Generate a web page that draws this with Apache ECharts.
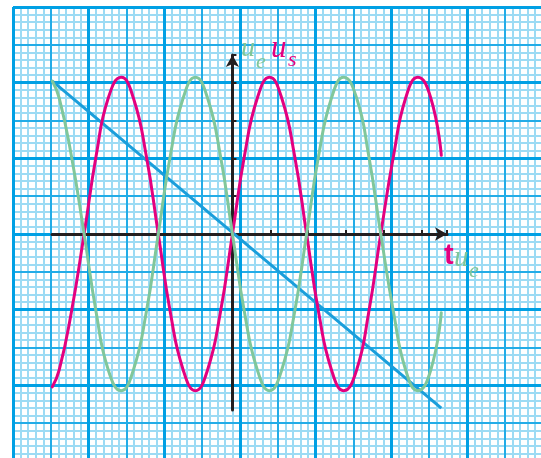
<!DOCTYPE html>
<html>
<head>
<meta charset="utf-8">
<script src="https://cdn.jsdelivr.net/npm/echarts@6/dist/echarts.min.js"></script>
<style>
  html, body { margin: 0; padding: 0; background: #fff; }
  #chart { width: 541px; height: 458px; }
</style>
</head>
<body>
<div id="chart"></div>
<script>
// values are in small squares of the graph paper, origin where the axes cross
var tPoints = [-23.8, -22.9, -21.3, -19.6, -18.0, -16.4, -14.7, -13.1, -11.4, -9.8, -8.2,
    -6.5, -4.9, -3.3, -1.6, 0, 1.6, 3.3, 4.9, 6.5, 8.2, 9.8, 11.4, 13.1, 14.7, 16.4,
    18.0, 19.6, 21.3, 22.9, 24.5, 26.2, 27.6];
// u_s (magenta)
var usValues = [-20.2, -18.0, -10.4, 0, 10.4, 18.0, 20.7, 18.0, 10.4, 0, -10.4, -18.0,
    -20.7, -18.0, -10.4, 0, 10.4, 18.0, 20.7, 18.0, 10.4, 0, -10.4, -18.0, -20.7,
    -18.0, -10.4, 0, 10.4, 18.0, 20.7, 18.0, 10.4];
// u_e (green)
var ueValues = [20.2, 18.0, 10.4, 0, -10.4, -18.0, -20.7, -18.0, -10.4, 0, 10.4, 18.0,
    20.7, 18.0, 10.4, 0, -10.4, -18.0, -20.7, -18.0, -10.4, 0, 10.4, 18.0, 20.7,
    18.0, 10.4, 0, -10.4, -18.0, -20.7, -18.0, -10.4];
// straight ramp (blue)
var rampT = [-23.8, 27.6];
var rampValues = [20.2, -23.0];
// axis ticks every 5 small squares on positive side
var tickStep = 5;

var SQ = 7.567;          // px per small square
var PAPER_L = 13, PAPER_T = 7;
var W_SQ = 70, H_SQ = 60;   // paper runs a little past the window edge
var ORIGIN_X = PAPER_L + 29 * SQ;
var ORIGIN_Y = PAPER_T + 30 * SQ;

var MAJOR = '#00a0e4', MEDIUM = '#22ace7', MINOR = '#9cdbf4';
var MAGENTA = '#e4007f', GREEN = '#80c79b', TEXTGREEN = '#7fc699', BLUE = '#1a9edb', BLACK = '#231f20';

function pairs(xs, ys) {
    var out = [];
    for (var i = 0; i < xs.length; i++) out.push([xs[i], ys[i]]);
    return out;
}

// graph paper: one hidden axis per line weight, only its split lines drawn
function paperAxis(interval, color, width, z, max, inverse) {
    return {
        gridIndex: 0, type: 'value', min: 0, max: max, interval: interval, z: z, inverse: inverse,
        axisLine: { show: false }, axisTick: { show: false }, axisLabel: { show: false },
        splitLine: { show: true, lineStyle: { color: color, width: width, type: 'solid' } }
    };
}

function label(text, x, y, color, font) {
    return { type: 'text', x: x, y: y, z: 10,
        style: { text: text, fill: color, font: font, textVerticalAlign: 'middle' } };
}

var hidden = { show: false };
var myChart = echarts.init(document.getElementById('chart'), null, { renderer: 'canvas' });

var posW = 447 - ORIGIN_X, posH = ORIGIN_Y - 55;
var negW = ORIGIN_X - 52, negH = 410 - ORIGIN_Y;

var option = {
    animation: false,
    backgroundColor: '#fff',
    grid: [
        { left: PAPER_L, top: PAPER_T, width: W_SQ * SQ, height: H_SQ * SQ, outerBoundsMode: 'none' },
        { left: ORIGIN_X, top: 55, width: posW, height: posH, outerBoundsMode: 'none' },
        { left: 52, top: ORIGIN_Y, width: negW, height: negH, outerBoundsMode: 'none' }
    ],
    xAxis: [
        paperAxis(1, MINOR, 2, 0, W_SQ, false),
        paperAxis(5, MEDIUM, 2, 1, W_SQ, false),
        paperAxis(10, MAJOR, 3, 2, W_SQ, false),
        { gridIndex: 0, type: 'value', min: -29, max: W_SQ - 29, show: false },
        {
            gridIndex: 1, type: 'value', min: 0, max: posW / SQ, interval: tickStep, position: 'bottom', z: 3,
            axisLine: { show: true, onZero: false, symbol: ['none', 'arrow'], symbolSize: [10, 12],
                lineStyle: { color: BLACK, width: 3 } },
            axisTick: { show: true, inside: true, length: 4, lineStyle: { color: BLACK, width: 2 } },
            axisLabel: hidden, splitLine: hidden
        },
        {
            gridIndex: 2, type: 'value', min: -negW / SQ, max: 0, position: 'top', z: 3,
            axisLine: { show: true, onZero: false, lineStyle: { color: BLACK, width: 3 } },
            axisTick: hidden, axisLabel: hidden, splitLine: hidden
        }
    ],
    yAxis: [
        paperAxis(1, MINOR, 2, 0, H_SQ, true),
        paperAxis(5, MEDIUM, 2, 1, H_SQ, true),
        paperAxis(10, MAJOR, 3, 2, H_SQ, true),
        { gridIndex: 0, type: 'value', min: 30 - H_SQ, max: 30, show: false },
        {
            gridIndex: 1, type: 'value', min: 0, max: posH / SQ, interval: tickStep, position: 'left', z: 3,
            axisLine: { show: true, onZero: false, symbol: ['none', 'arrow'], symbolSize: [10, 12],
                lineStyle: { color: BLACK, width: 3 } },
            axisTick: { show: true, inside: true, length: 4, lineStyle: { color: BLACK, width: 2 } },
            axisLabel: hidden, splitLine: hidden
        },
        {
            gridIndex: 2, type: 'value', min: -negH / SQ, max: 0, position: 'right', z: 3,
            axisLine: { show: true, onZero: false, lineStyle: { color: BLACK, width: 3 } },
            axisTick: hidden, axisLabel: hidden, splitLine: hidden
        }
    ],
    series: [
        {
            name: 'ramp', type: 'line', xAxisIndex: 3, yAxisIndex: 3, z: 5,
            data: pairs(rampT, rampValues), showSymbol: false,
            lineStyle: { color: BLUE, width: 3 }
        },
        {
            name: 'us', type: 'line', xAxisIndex: 3, yAxisIndex: 3, z: 6,
            data: pairs(tPoints, usValues), smooth: 0.5, showSymbol: false,
            lineStyle: { color: MAGENTA, width: 3, cap: 'round' }
        },
        {
            name: 'ue', type: 'line', xAxisIndex: 3, yAxisIndex: 3, z: 7,
            data: pairs(tPoints, ueValues), smooth: 0.5, showSymbol: false,
            lineStyle: { color: GREEN, width: 3, cap: 'round' }
        }
    ],
    graphic: [
        label('u', 241, 49, TEXTGREEN, 'italic 28px "Liberation Serif"'),
        label('e', 256, 62, TEXTGREEN, 'italic 22px "Liberation Serif"'),
        label('u', 271, 49, MAGENTA, 'italic 31px "Liberation Serif"'),
        label('s', 288, 60, MAGENTA, 'italic 22px "Liberation Serif"'),
        label('t', 444, 256, MAGENTA, 'bold 29px "Liberation Sans"'),
        label('u', 454, 258, TEXTGREEN, 'italic 29px "Liberation Serif"'),
        label('e', 469, 271, TEXTGREEN, 'italic 22px "Liberation Serif"')
    ]
};

myChart.setOption(option);
</script>
</body>
</html>
